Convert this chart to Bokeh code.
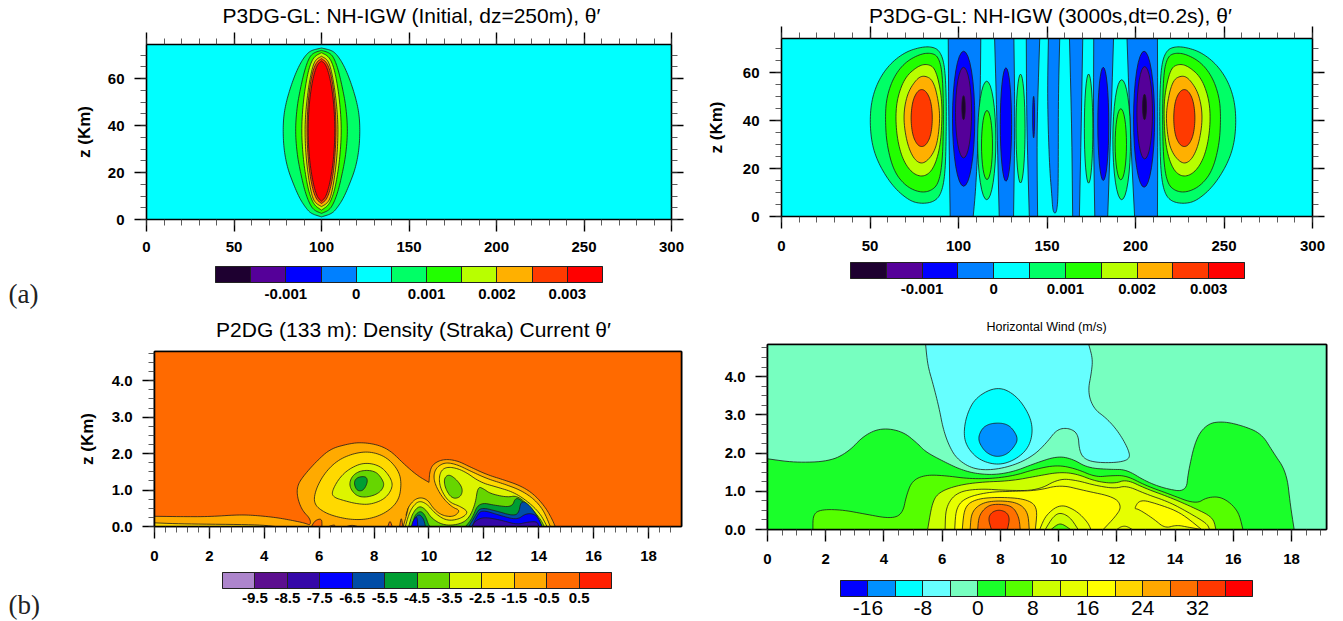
from bokeh.embed import file_html
from bokeh.resources import INLINE
from bokeh.layouts import column, row
from bokeh.models import (ColorBar, FixedTicker, Label, LinearAxis, LinearColorMapper,
                          PrintfTickFormatter, CustomJSTickFormatter, Range1d)
from bokeh.plotting import figure

FONT = "Liberation Sans"
LINE = "#1c1c1c"

# ---------- colour scales (levels + palettes) ----------
IGW_LEVELS = [-0.002, -0.0015, -0.001, -0.0005, 0, 0.0005, 0.001, 0.0015, 0.002, 0.0025, 0.003, 0.0035]
IGW_LABELS = {-0.001: "-0.001", 0: "0", 0.001: "0.001", 0.002: "0.002", 0.003: "0.003"}
IGW_PALETTE = ["#1e0030", "#550099", "#0000ff", "#0080ff", "#00ffff", "#00ff66",
               "#22ff00", "#b8ff00", "#ffb000", "#ff3a00", "#ff0000"]
DC_LEVELS = [-10.5, -9.5, -8.5, -7.5, -6.5, -5.5, -4.5, -3.5, -2.5, -1.5, -0.5, 0.5, 1.5]
DC_LABELS = {-9.5: "-9.5", -8.5: "-8.5", -7.5: "-7.5", -6.5: "-6.5", -5.5: "-5.5", -4.5: "-4.5",
             -3.5: "-3.5", -2.5: "-2.5", -1.5: "-1.5", -0.5: "-0.5", 0.5: "0.5"}
DC_PALETTE = ["#ad85cc", "#5c0f8f", "#3508a8", "#0000ff", "#004da6", "#009e33",
              "#66d600", "#ddf500", "#ffd900", "#ffaa00", "#ff6a00", "#ff2000"]
WIND_LEVELS = [-20, -16, -12, -8, -4, 0, 4, 8, 12, 16, 20, 24, 28, 32, 36, 40]
WIND_LABELS = {-16: "-16", -8: "-8", 0: "0", 8: "8", 16: "16", 24: "24", 32: "32"}
WIND_PALETTE = ["#0000ff", "#0090ff", "#00ffff", "#66ffff", "#77ffc0", "#1aff2a", "#55ff00", "#ccff00",
                "#e6ff00", "#ffff00", "#ffd500", "#ffa800", "#ff7000", "#ff3800", "#ff0000"]

# ---------- panel (a) left: z levels and half widths of each contour about x=100 ----------
A_CENTER = 100
A_RINGS = [
    ("#00ff66", [73, 72, 70, 66, 60, 52, 45, 38, 30, 22, 15, 9, 5, 2.5, 1.1],
                [0, 6, 9, 12.5, 16, 19.5, 21.5, 22, 21.5, 19.5, 16, 12.5, 9, 6, 0]),
    ("#22ff00", [72, 71, 69, 64, 56, 48, 38, 28, 20, 12, 7, 4, 2.6],
                [0, 4.5, 7, 9.5, 12, 14, 15, 14, 12, 9.5, 7, 4.5, 0]),
    ("#b8ff00", [71, 69.5, 66, 60, 50, 38, 26, 16, 10, 6, 4],
                [0, 4, 6.5, 8.5, 10.5, 11.5, 10.5, 8.5, 6.5, 4, 0]),
    ("#ffb000", [69.5, 68, 64, 56, 46, 38, 28, 18, 10, 7, 5.5],
                [0, 3.5, 5.5, 7.5, 9, 9.5, 9, 7.5, 5.5, 3.5, 0]),
    ("#ff3a00", [68.5, 67, 62, 52, 38, 24, 14, 8.5, 6.8],
                [0, 3, 5.5, 7.5, 8.5, 7.5, 5.5, 3, 0]),
    ("#ff0000", [67.5, 66, 60, 50, 38, 26, 16, 9.5, 7.8],
                [0, 2.5, 5, 7, 7.8, 7, 5, 2.5, 0]),
]

# ---------- panel (a) right ----------
B_BANDS = [
    [(94.2, 74.2), (112.6, 74.2), (112.3, 50), (111, 30), (109.6, 10), (108.3, 0), (95.3, 0), (94.5, 40)],
    [(120.4, 74.2), (131.3, 74.2), (131.9, 40), (131.1, 0), (123, 0), (121.7, 40)],
    [(138.3, 74.2), (145.9, 74.2), (144.2, 36), (144.7, 0), (140, 0), (138.5, 40)],
    [(150.8, 74.2), (157.2, 74.2), (156.4, 50), (156.4, 22), (156.2, 8), (155.6, 2.5), (154.5, 1.1),
     (153.3, 2.5), (152.8, 8), (151.3, 22), (150.2, 50)],
    [(162.7, 74.2), (170.2, 74.2), (169.3, 36), (168.3, 0), (164.5, 0), (164, 36)],
    [(176.4, 74.2), (187.6, 74.2), (186, 36), (184.3, 0), (177, 0), (176.2, 36)],
    [(195.2, 74.2), (212.4, 74.2), (212.6, 36), (212.4, 0), (199.5, 0), (197, 36)],
]
# (x centre, z centre, width, height, colour)
B_BLOBS = [
    (102.9, 40.75, 12.6, 56.3, "#0000ff"), (102.85, 43.3, 9.1, 37.8, "#550099"), (102.85, 45.35, 1.9, 10.1, "#1e0030"),
    (204.85, 40.55, 11.9, 56.7, "#0000ff"), (205.2, 43.25, 8.8, 38.5, "#550099"), (205.1, 45.65, 2.2, 10.7, "#1e0030"),
    (126.8, 38.35, 6.4, 47.3, "#0000ff"), (181.8, 38.6, 6.2, 47.2, "#0000ff"), (142.45, 41.45, 1.1, 17.3, "#0000ff"),
    (115.95, 31.7, 10.3, 49.4, "#00ff66"), (116.1, 29.8, 6.2, 28.8, "#22ff00"),
    (192.2, 32, 10, 50, "#00ff66"), (191.7, 30.1, 6.4, 29.6, "#22ff00"),
    (135.05, 36.65, 5.1, 45.5, "#00ff66"), (173.5, 36.65, 4.8, 45.5, "#00ff66"),
]
B_MIRROR = 306.8
B_EGG1 = [(49.9, 38.6), (50.8, 48.3), (54.7, 56.7), (61.2, 63.6), (69.8, 68.5), (78.5, 70.6), (84.9, 70.8), (89.3, 69.2),
          (92.1, 63.6), (93.1, 51.1), (93.1, 34.4), (92.5, 17.8), (90.3, 9.4), (86, 6), (78.5, 5.3), (72, 6.7),
          (63.3, 12.2), (55.8, 20.6), (51.4, 28.9)]
B_EGG2 = [(58.6, 41.4), (59.4, 49.7), (63.3, 58.1), (69.8, 64.3), (78.5, 67.8), (84.9, 68.2), (88.8, 66.4), (91, 59.4),
          (91.6, 41.4), (91, 23.3), (88.8, 13.6), (83.9, 10.4), (77.4, 10.1), (69.8, 12.9), (63.3, 19.1), (59.4, 30.2)]
B_EGG3 = [(64.4, 41.4), (65.5, 49.7), (69.8, 58.1), (77.4, 62.9), (82.8, 63.6), (87.1, 61.5), (90.3, 51.1), (90.8, 41.4),
          (89.7, 28.9), (86, 19.9), (80.6, 16.4), (74.1, 17.8), (68.7, 23.3), (65.5, 31.7)]
B_EGG4 = [(68.7, 41.4), (70.9, 51.1), (76.3, 57.4), (80.6, 58.9), (86, 56.7), (89.3, 45.6), (89.3, 37.2), (87.1, 27.5),
          (80.6, 21.7), (75.2, 23.3), (70.9, 30.3)]
B_EGG5 = [(73, 41), (74, 48), (76.5, 52), (79.2, 53.2), (82, 52), (84.5, 48), (85.4, 41), (84.5, 34), (82, 30),
          (79.2, 28.9), (76.5, 30), (74, 34)]
B_EGGS = [("#00ff66", B_EGG1), ("#22ff00", B_EGG2), ("#b8ff00", B_EGG3), ("#ffb000", B_EGG4), ("#ff3a00", B_EGG5)]

# ---------- panel (b) left ----------
C_OUTER = [(0, 0), (0, 0.28), (1, 0.27), (2, 0.27), (3, 0.32), (3.6, 0.31), (4.4, 0.25), (5, 0.17), (5.5, 0.09), (5.68, 0.03),
           (5.68, 0.21), (5.38, 0.44), (5.2, 0.8), (5.2, 1.12), (5.44, 1.4), (5.93, 1.81), (6.41, 2.13), (7.02, 2.26),
           (7.5, 2.31), (8.11, 2.25), (8.6, 2.08), (9.08, 1.72), (9.57, 1.4), (10.0, 1.21), (10.0, 1.21), (10.0, 1.21), (10.03, 1.53), (10.17, 1.73),
           (10.54, 1.85), (11.02, 1.81), (11.51, 1.63), (12.12, 1.42), (12.72, 1.28), (13.33, 1.12),
           (13.82, 0.89), (14.24, 0.53), (14.48, 0.21), (14.6, 0)]
C_LAYER = [(0, 0), (0, 0.1), (1, 0.07), (3.8, 0.05), (4.4, 0)]
C_V1_YELLOW = [(5.8, 0.62), (5.86, 0.99), (6.17, 1.44), (6.65, 1.81), (7.26, 2.01), (7.87, 2.06), (8.47, 1.9), (8.9, 1.53),
               (9.0, 1.17), (8.9, 0.71), (8.47, 0.39), (7.87, 0.21), (7.26, 0.18), (6.65, 0.26), (6.17, 0.39)]
C_V1_LIME = [(6.45, 0.94), (6.71, 1.31), (7.08, 1.58), (7.63, 1.76), (8.23, 1.67), (8.6, 1.35), (8.69, 1.08), (8.41, 0.76),
             (7.87, 0.6), (7.38, 0.62), (6.9, 0.71), (6.53, 0.8)]
C_V1_GREEN = [(7.08, 1.12), (7.2, 1.4), (7.56, 1.55), (8.05, 1.52), (8.29, 1.31), (8.38, 1.12), (8.17, 0.9), (7.69, 0.79), (7.32, 0.85)]
C_V1_DARK = [(7.26, 1.21), (7.38, 1.35), (7.69, 1.38), (7.77, 1.26), (7.69, 1.08), (7.56, 0.97), (7.36, 0.99)]
C_GC_YELLOW = [(9.06, 0), (9.2, 0.35), (9.26, 0.57), (9.57, 0.8), (9.93, 0.76), (10.17, 0.48), (10.48, 0.3), (10.9, 0.26), (11.15, 0.44),
               (10.84, 0.53), (10.48, 0.8), (10.21, 1.17), (10.17, 1.44), (10.3, 1.64), (10.6, 1.76), (11.02, 1.7), (11.51, 1.52),
               (12.12, 1.31), (12.72, 1.17), (13.33, 1.0), (13.82, 0.76), (14.18, 0.44), (14.42, 0)]
C_GC_LIME = [(9.14, 0), (9.25, 0.3), (9.39, 0.53), (9.63, 0.71), (9.93, 0.62), (10.23, 0.35), (10.66, 0.15), (11.15, 0.21), (11.45, 0.39),
             (11.15, 0.55), (10.72, 0.67), (10.42, 1.03), (10.36, 1.35), (10.48, 1.58), (10.78, 1.64), (11.27, 1.53), (11.87, 1.21),
             (12.48, 1.08), (13.09, 0.94), (13.63, 0.67), (14.06, 0.35), (14.3, 0)]
C_V2_GREEN = [(10.54, 1.31), (10.72, 1.44), (11.02, 1.28), (11.24, 1.03), (11.15, 0.8), (10.84, 0.76), (10.6, 1.03)]
C_GC_GREEN = [(9.26, 0), (9.39, 0.35), (9.63, 0.57), (9.87, 0.48), (10.11, 0.21), (10.54, 0.03), (11.08, 0.05), (11.45, 0.21),
              (11.69, 0.62), (11.78, 1.1), (12, 1.03), (12.24, 0.9), (12.84, 0.8), (13.21, 0.85), (13.63, 0.58), (14.06, 0.21), (14.2, 0)]
C_DARK_A = [(9.39, 0), (9.47, 0.3), (9.69, 0.44), (9.87, 0.3), (9.99, 0.03), (10.05, 0)]
C_DARK_B = [(11.33, 0), (11.57, 0.21), (11.81, 0.67), (12.48, 0.57), (13.03, 0.53), (13.15, 0.8), (13.39, 0.71), (13.82, 0.35), (14.12, 0)]
C_TEAL_A = [(9.42, 0), (9.47, 0.21), (9.63, 0.35), (9.81, 0.21), (9.87, 0)]
C_TEAL_B = [(11.45, 0), (11.69, 0.3), (11.87, 0.53), (12.48, 0.42), (13.03, 0.3), (13.27, 0.35), (13.35, 0.71), (13.63, 0.62),
            (13.94, 0.3), (14.12, 0)]
C_BLUE_A = [(9.36, 0), (9.42, 0.16), (9.57, 0.3), (9.59, 0)]
C_BLUE_B = [(11.57, 0), (11.75, 0.3), (11.93, 0.46), (12.6, 0.3), (13.21, 0.18), (13.51, 0.35), (13.82, 0.35), (14.0, 0.21), (14.12, 0)]
C_INDIGO = [(11.57, 0), (11.69, 0.16), (12, 0.26), (12.6, 0.18), (13.21, 0.05), (13.57, 0.12), (13.95, 0.14), (14.0, 0)]
C_POCKETS = [[(5.72, 0), (5.85, 0.17), (6.1, 0.22), (6.1, 0)], [(6.35, 0), (6.55, 0.05), (6.6, 0)],
             [(7.0, 0), (7.2, 0.04), (7.4, 0)], [(8.5, 0), (8.58, 0.18), (8.66, 0)], [(8.93, 0), (8.99, 0.28), (9.05, 0)],
             [(9.15, 0.3), (9.27, 0.57), (9.3, 0.5), (9.2, 0.3)]]

# ---------- panel (b) right ----------
D_M4 = [(5.43, 4.85), (5.5, 4.3), (5.7, 3.77), (5.9, 3.16), (6.03, 2.64), (6.23, 2.2), (6.5, 1.85), (7.03, 1.59), (7.69, 1.55),
        (8.48, 1.68), (9.15, 1.94), (9.61, 2.29), (9.94, 2.62), (10.34, 2.66), (10.67, 2.51), (10.71, 2.07), (10.87, 1.85),
        (11.27, 1.75), (12.06, 1.75), (12.46, 1.85), (12.39, 2.11), (12.06, 2.55), (11.66, 2.9), (11.2, 3.16), (11.0, 3.6),
        (11.13, 4.12), (11.17, 4.47), (11.03, 4.85)]
D_M8 = [(6.73, 2.46), (6.83, 2.99), (7.16, 3.47), (7.91, 3.75), (8.55, 3.51), (9.01, 2.99), (9.12, 2.55), (8.95, 2.11),
        (8.48, 1.81), (7.91, 1.68), (7.29, 1.81), (6.89, 2.11)]
D_M12 = [(7.22, 2.36), (7.36, 2.64), (7.6, 2.76), (7.91, 2.79), (8.2, 2.76), (8.42, 2.64), (8.62, 2.36), (8.42, 2.11), (8.2, 1.96),
         (7.91, 1.9), (7.65, 1.95), (7.42, 2.08)]
D_P0 = [(0, 1.85), (0.93, 1.75), (2.12, 1.78), (2.78, 2.03), (3.31, 2.46), (3.91, 2.66), (4.64, 2.57), (5.17, 2.24), (5.43, 2.03),
        (6.1, 1.76), (6.63, 1.57), (7.16, 1.46), (7.82, 1.43), (8.48, 1.52), (9.15, 1.72), (9.94, 1.92), (10.47, 1.85), (11.0, 1.61),
        (11.8, 1.57), (12.33, 1.57), (12.99, 1.26), (13.65, 1.07), (14.38, 0.98), (14.45, 1.5), (14.71, 2.38), (15.11, 2.77),
        (15.64, 2.83), (16.3, 2.72), (16.97, 2.51), (17.36, 2.03), (17.83, 1.5), (17.96, 0.63), (18.09, 0), (0, 0)]
D_P4 = [(1.56, 0), (1.56, 0.37), (1.79, 0.52), (2.52, 0.52), (3.31, 0.41), (4.24, 0.28), (4.64, 0.41), (4.77, 0.89), (4.97, 1.28),
        (5.43, 1.43), (6.1, 1.41), (6.89, 1.33), (7.69, 1.33), (8.48, 1.41), (9.15, 1.57), (9.94, 1.69), (10.6, 1.59), (11.27, 1.37),
        (11.8, 1.41), (12.33, 1.41), (12.99, 1.15), (13.79, 0.93), (14.71, 0.66), (15.11, 0.85), (15.64, 0.85), (16.17, 0.5), (16.33, 0)]
D_P8 = [(5.5, 0), (5.66, 0.72), (5.9, 0.98), (6.5, 1.15), (7.29, 1.24), (8.35, 1.27), (9.28, 1.4), (10.01, 1.5), (10.6, 1.46),
        (11.27, 1.26), (11.93, 1.2), (12.33, 1.31), (12.99, 1.07), (13.79, 0.85), (14.58, 0.59), (15.31, 0.32), (15.4, 0)]
D_P12 = [(6.1, 0), (6.12, 0.59), (6.5, 0.98), (7.29, 1.07), (8.22, 1.02), (9.28, 1.02), (10.01, 1.33), (10.6, 1.29), (11.27, 1.15),
         (11.93, 1.07), (12.33, 1.15), (12.99, 0.93), (13.79, 0.72), (14.45, 0.45), (15.11, 0.15), (15.18, 0)]
D_P16 = [(6.43, 0), (6.47, 0.54), (6.76, 0.82), (7.56, 0.98), (8.48, 1.0), (9.28, 1.02), (10.07, 1.17), (10.87, 1.02), (11.93, 0.85),
         (12.17, 0.59), (11.93, 0.32), (11.53, 0)]
D_P16B = [(12.59, 0.54), (12.79, 0.79), (13.39, 0.67), (14.18, 0.45), (14.91, 0), (14.45, 0.06), (14.05, 0.12), (13.65, 0.03),
          (13.26, 0.28), (12.73, 0.54)]
D_P20 = [(6.69, 0), (6.76, 0.59), (7.16, 0.8), (7.95, 0.85), (8.88, 0.8), (9.28, 0.59), (9.2, 0)]
D_P24 = [(6.96, 0), (7.0, 0.45), (7.36, 0.7), (7.95, 0.76), (8.62, 0.7), (8.95, 0.45), (8.99, 0)]
D_P28 = [(7.22, 0), (7.26, 0.37), (7.56, 0.63), (7.95, 0.67), (8.42, 0.61), (8.64, 0.32), (8.68, 0)]
D_P32 = [(7.69, 0), (7.58, 0.28), (7.69, 0.45), (7.95, 0.52), (8.22, 0.45), (8.32, 0.28), (8.24, 0)]
D_H12 = [(9.35, 0), (9.55, 0.37), (10.05, 0.67), (10.6, 0.5), (11.0, 0.19), (11.11, 0)]
D_H8 = [(9.54, 0), (9.8, 0.33), (10.05, 0.45), (10.4, 0.32), (10.67, 0)]
D_H4 = [(9.74, 0), (10.05, 0.19), (10.41, 0)]
D_S12 = [(12.0, 0), (12.15, 0.08), (12.33, 0.09), (12.53, 0)]

# ---------- ticks ----------
IGW_X = [0, 50, 100, 150, 200, 250, 300]
IGW_X_MINOR = [v for v in range(0, 301, 10)]
IGW_Z = [0, 20, 40, 60]
IGW_Z_MINOR = [v for v in range(0, 75, 5)]
DC_X = [0, 2, 4, 6, 8, 10, 12, 14, 16, 18]
DC_X_MINOR = [v * 0.4 for v in range(0, 49)]
DC_Z = [0, 1, 2, 3, 4]
DC_Z_MINOR = [v * 0.25 for v in range(0, 20)]
W_X_MINOR = [v * 0.5 for v in range(0, 39)]


def build(w, h, left, right, top, bottom, xmax, zmax, xt, xm, zt, zm, boxed, ylabel, standoff, fmt=None, xst=12):
    p = figure(width=w, height=h, min_border_left=left, min_border_right=right, min_border_top=top, min_border_bottom=bottom,
               x_range=Range1d(0, xmax), y_range=Range1d(0, zmax), output_backend="svg", toolbar_location=None,
               x_axis_type=None, y_axis_type=None, background_fill_color="#ffffff", outline_line_color=None, frame_align=False)
    p.grid.visible = False

    def style(ax, labelled, st):
        ax.major_tick_in = 0
        ax.minor_tick_in = 0
        ax.major_tick_out = 12
        ax.minor_tick_out = 6
        ax.axis_line_width = 1.6
        ax.major_tick_line_width = 1.4
        ax.minor_tick_line_width = 0.8
        ax.minor_tick_line_color = "#333333"
        ax.major_label_text_font = FONT
        ax.major_label_text_font_style = "bold"
        ax.major_label_text_color = "#000000"
        ax.major_label_text_font_size = "15px"
        ax.major_label_standoff = st
        if not labelled:
            ax.formatter = CustomJSTickFormatter(code="return ''")
            ax.major_label_text_font_size = "1px"
            ax.major_label_standoff = 0

    bx = LinearAxis(ticker=FixedTicker(ticks=xt, minor_ticks=xm))
    style(bx, True, xst)
    p.add_layout(bx, "below")
    ly = LinearAxis(ticker=FixedTicker(ticks=zt, minor_ticks=zm))
    style(ly, True, 10)
    if fmt:
        ly.formatter = PrintfTickFormatter(format=fmt)
    if ylabel:
        ly.axis_label = ylabel
        ly.axis_label_text_font = FONT
        ly.axis_label_text_font_style = "bold"
        ly.axis_label_text_color = "#000000"
        ly.axis_label_text_font_size = "17px"
        ly.axis_label_standoff = standoff
    p.add_layout(ly, "left")
    tx = LinearAxis(ticker=FixedTicker(ticks=xt if boxed else [], minor_ticks=xm if boxed else []))
    style(tx, False, 0)
    # the top ticks are drawn upward without taking room from the title's panel
    tx.major_tick_out, tx.minor_tick_out = 0, 0
    tx.major_tick_in, tx.minor_tick_in = -12, -6
    p.add_layout(tx, "above")
    ry = LinearAxis(ticker=FixedTicker(ticks=zt if boxed else [], minor_ticks=zm if boxed else []))
    style(ry, False, 0)
    p.add_layout(ry, "right")
    return p


def rounded(pts, sharp, rounds=3):
    """Round the polygon's corners for drawing; vertices on the domain edge stay put."""
    for _ in range(rounds):
        out = []
        n = len(pts)
        for i in range(n):
            a, b = pts[i], pts[(i + 1) % n]
            out.append(a if sharp(a) else (0.75 * a[0] + 0.25 * b[0], 0.75 * a[1] + 0.25 * b[1]))
            out.append(b if sharp(b) else (0.25 * a[0] + 0.75 * b[0], 0.25 * a[1] + 0.75 * b[1]))
        pts = out
    return pts


def area(p, pts, color):
    xmax, zmax = p.x_range.end, p.y_range.end
    sharp = lambda q: q[1] <= 0 or q[0] <= 0 or q[1] >= zmax - 0.01 or q[0] >= xmax
    pts = rounded(pts, sharp)
    p.patch([a for a, _ in pts], [b for _, b in pts], fill_color=color, line_color=LINE, line_width=0.8, line_join="round")


def back(p, xmax, zmax, color):
    p.quad(left=[0], right=[xmax], bottom=[0], top=[zmax], fill_color=color, line_color=None)


def title(p, text, sx, sy, size):
    p.add_layout(Label(x=sx, y=sy, x_units="screen", y_units="screen", text=text, text_align="center", text_baseline="middle",
                       text_font=FONT, text_font_size=size, text_color="#000000"), "above")


def tag(p, text, x, y):
    p.add_layout(Label(x=x, y=y, x_units="screen", y_units="screen", text=text, text_font="Liberation Serif",
                       text_font_size="27px", text_color="#222222", text_baseline="middle"), "below")


def bar(p, levels, labels, palette, blen, bthick, bx, by, size, st, weight="bold"):
    cm = LinearColorMapper(palette=palette, low=levels[0], high=levels[-1])
    cb = ColorBar(color_mapper=cm, orientation="horizontal", width=blen, height=bthick, location=(bx, by), padding=0, margin=0,
                  ticker=FixedTicker(ticks=list(labels), minor_ticks=levels), major_label_overrides=labels,
                  major_tick_in=bthick, major_tick_out=0, major_tick_line_color="#222222", major_tick_line_width=1,
                  minor_tick_in=bthick, minor_tick_out=0, minor_tick_line_color="#222222", minor_tick_line_width=1,
                  bar_line_color="#222222", bar_line_width=1, border_line_color=None, background_fill_color=None,
                  major_label_text_font=FONT, major_label_text_font_style=weight, major_label_text_color="#000000",
                  major_label_text_font_size=size, label_standoff=st)
    p.add_layout(cb, "center")


# ---------- panel A ----------
pa = build(700, 316, 146, 29, 44, 97, 300, 74.5, IGW_X, IGW_X_MINOR, IGW_Z, IGW_Z_MINOR, True, "z (Km)", 11, xst=10)
back(pa, 300, 74.5, "#00ffff")
for col, zs, hw in A_RINGS:
    pts = [(A_CENTER + w, z) for z, w in zip(zs, hw)] + [(A_CENTER - w, z) for z, w in zip(zs[::-1], hw[::-1])]
    area(pa, pts, col)
title(pa, "P3DG-GL: NH-IGW (Initial, dz=250m), θ′", 265, 29, "21px")
bar(pa, IGW_LEVELS, IGW_LABELS, IGW_PALETTE, 387, 16, 69, -82, "15px", 6)
tag(pa, "(a)", -138, -9)

# ---------- panel B ----------
pb = build(643, 316, 81, 31, 38, 100, 300, 74.2, IGW_X, IGW_X_MINOR, IGW_Z, IGW_Z_MINOR, True, "z (Km)", 14)
back(pb, 300, 74.2, "#00ffff")
for band in B_BANDS:
    area(pb, band, "#0080ff")
for col, egg in B_EGGS:
    area(pb, egg, col)
    area(pb, [(B_MIRROR - a, b) for a, b in egg], col)
for cx, cz, w, h, col in B_BLOBS:
    pb.ellipse(x=[cx], y=[cz], width=[w], height=[h], fill_color=col, line_color=LINE, line_width=0.8)
title(pb, "P3DG-GL: NH-IGW (3000s,dt=0.2s), θ′", 269, 23, "21px")
bar(pb, IGW_LEVELS, IGW_LABELS, IGW_PALETTE, 394, 16, 69, -80, "15px", 5)

# ---------- panel C ----------
pc = build(700, 305, 154, 19, 35, 95, 19.2, 4.8, DC_X, DC_X_MINOR, DC_Z, DC_Z_MINOR, False, "z (Km)", 12, "%.1f")
back(pc, 19.2, 4.8, "#ff6a00")
area(pc, C_OUTER, "#ffaa00")
area(pc, C_LAYER, "#ffd900")
for pts in C_POCKETS:
    area(pc, pts, "#ff6a00")
area(pc, C_V1_YELLOW, "#ffd900")
area(pc, C_V1_LIME, "#ddf500")
area(pc, C_V1_GREEN, "#66d600")
area(pc, C_V1_DARK, "#009e33")
area(pc, C_GC_YELLOW, "#ffd900")
area(pc, C_GC_LIME, "#ddf500")
area(pc, C_V2_GREEN, "#66d600")
area(pc, C_GC_GREEN, "#66d600")
area(pc, C_DARK_A, "#009e33")
area(pc, C_DARK_B, "#009e33")
area(pc, C_TEAL_A, "#004da6")
area(pc, C_TEAL_B, "#004da6")
area(pc, C_BLUE_A, "#0000ff")
area(pc, C_BLUE_B, "#0000ff")
area(pc, C_INDIGO, "#3508a8")
pc.outline_line_color = "#000000"
pc.outline_line_width = 1.6
title(pc, "P2DG (133 m): Density (Straka) Current θ′", 259, 22, "21px")
bar(pc, DC_LEVELS, DC_LABELS, DC_PALETTE, 389, 16, 68, -79, "15px", 4)
tag(pc, "(b)", -146, -11)

# ---------- panel D ----------
pd = build(643, 305, 67, 17, 28, 92, 19.2, 4.84, DC_X, W_X_MINOR, DC_Z, DC_Z_MINOR, False, None, 0, "%.1f")
back(pd, 19.2, 4.84, "#77ffc0")
for pts, col in [(D_M4, "#66ffff"), (D_M8, "#00ffff"), (D_M12, "#0090ff"), (D_P0, "#1aff2a"), (D_P4, "#55ff00"), (D_P8, "#ccff00"),
                 (D_P12, "#e6ff00"), (D_P16, "#ffff00"), (D_P16B, "#ffff00"), (D_P20, "#ffd500"), (D_P24, "#ffa800"), (D_P28, "#ff7000"),
                 (D_P32, "#ff3800"), (D_H12, "#e6ff00"), (D_H8, "#ccff00"), (D_H4, "#55ff00"), (D_S12, "#e6ff00")]:
    area(pd, pts, col)
pd.outline_line_color = "#000000"
pd.outline_line_width = 1.6
title(pd, "Horizontal Wind (m/s)", 279, 18, "12.5px")
bar(pd, WIND_LEVELS, WIND_LABELS, WIND_PALETTE, 412, 16, 73, -88, "21px", 4, "normal")

page = column(row(pa, pb, spacing=0), row(pc, pd, spacing=0), spacing=0)
open("out.html", "w").write(file_html(page, INLINE))
